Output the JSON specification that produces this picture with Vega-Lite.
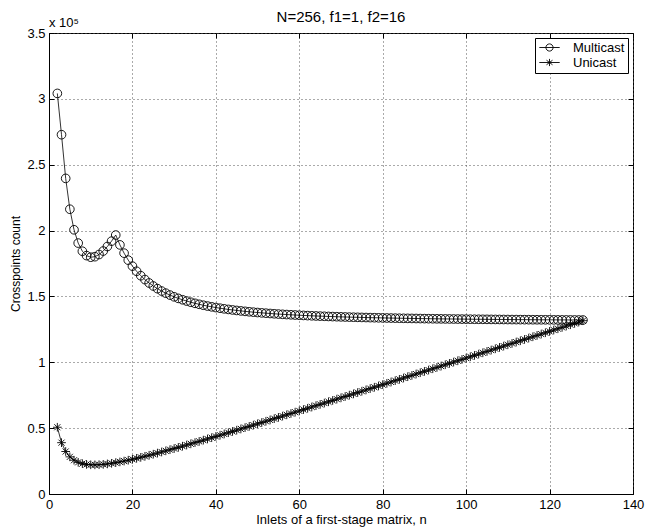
{
  "$schema": "https://vega.github.io/schema/vega-lite/v6.json",
  "autosize": {"type": "none"},
  "width": 584,
  "height": 461,
  "padding": {"left": 49, "top": 33, "right": 20, "bottom": 35},
  "background": "white",
  "title": {"text": "N=256, f1=1, f2=16", "font": "Liberation Sans", "fontSize": 15, "fontWeight": "normal", "color": "black", "offset": -8},
  "config": {
    "font": "Liberation Sans",
    "view": {"stroke": "black", "strokeWidth": 1},
    "axis": {"labelFont": "Liberation Sans", "titleFont": "Liberation Sans", "labelColor": "black", "titleColor": "black", "titleFontWeight": "normal", "domainColor": "black", "tickColor": "black", "gridColor": "#555", "gridDash": [1, 3], "gridWidth": 1}
  },
  "data": {"values": [
    {"n":2,"Multicast":304128,"Unicast":50688},
    {"n":3,"Multicast":272782,"Unicast":38969},
    {"n":4,"Multicast":239616,"Unicast":32256},
    {"n":5,"Multicast":216207,"Unicast":28201},
    {"n":6,"Multicast":200590,"Unicast":25657},
    {"n":7,"Multicast":190495,"Unicast":24043},
    {"n":8,"Multicast":184320,"Unicast":23040},
    {"n":9,"Multicast":180989,"Unicast":22459},
    {"n":10,"Multicast":179773,"Unicast":22180},
    {"n":11,"Multicast":180169,"Unicast":22126},
    {"n":12,"Multicast":181817,"Unicast":22244},
    {"n":13,"Multicast":184457,"Unicast":22495},
    {"n":14,"Multicast":187894,"Unicast":22852},
    {"n":15,"Multicast":191982,"Unicast":23295},
    {"n":16,"Multicast":196608,"Unicast":23808},
    {"n":17,"Multicast":189125,"Unicast":24379},
    {"n":18,"Multicast":182853,"Unicast":24999},
    {"n":19,"Multicast":177546,"Unicast":25661},
    {"n":20,"Multicast":173015,"Unicast":26358},
    {"n":21,"Multicast":169116,"Unicast":27085},
    {"n":22,"Multicast":165734,"Unicast":27838},
    {"n":23,"Multicast":162788,"Unicast":28615},
    {"n":24,"Multicast":160200,"Unicast":29412},
    {"n":25,"Multicast":157916,"Unicast":30226},
    {"n":26,"Multicast":155891,"Unicast":31056},
    {"n":27,"Multicast":154086,"Unicast":31901},
    {"n":28,"Multicast":152471,"Unicast":32757},
    {"n":29,"Multicast":151022,"Unicast":33626},
    {"n":30,"Multicast":149714,"Unicast":34504},
    {"n":31,"Multicast":148531,"Unicast":35392},
    {"n":32,"Multicast":147456,"Unicast":36288},
    {"n":33,"Multicast":146478,"Unicast":37192},
    {"n":34,"Multicast":145585,"Unicast":38102},
    {"n":35,"Multicast":144768,"Unicast":39020},
    {"n":36,"Multicast":144018,"Unicast":39942},
    {"n":37,"Multicast":143327,"Unicast":40871},
    {"n":38,"Multicast":142689,"Unicast":41804},
    {"n":39,"Multicast":142103,"Unicast":42742},
    {"n":40,"Multicast":141558,"Unicast":43684},
    {"n":41,"Multicast":141053,"Unicast":44630},
    {"n":42,"Multicast":140582,"Unicast":45579},
    {"n":43,"Multicast":140145,"Unicast":46532},
    {"n":44,"Multicast":139738,"Unicast":47489},
    {"n":45,"Multicast":139356,"Unicast":48448},
    {"n":46,"Multicast":139000,"Unicast":49410},
    {"n":47,"Multicast":138668,"Unicast":50375},
    {"n":48,"Multicast":138353,"Unicast":51342},
    {"n":49,"Multicast":138061,"Unicast":52312},
    {"n":50,"Multicast":137782,"Unicast":53283},
    {"n":51,"Multicast":137523,"Unicast":54257},
    {"n":52,"Multicast":137277,"Unicast":55233},
    {"n":53,"Multicast":137044,"Unicast":56210},
    {"n":54,"Multicast":136824,"Unicast":57188},
    {"n":55,"Multicast":136617,"Unicast":58169},
    {"n":56,"Multicast":136422,"Unicast":59152},
    {"n":57,"Multicast":136236,"Unicast":60135},
    {"n":58,"Multicast":136059,"Unicast":61120},
    {"n":59,"Multicast":135892,"Unicast":62107},
    {"n":60,"Multicast":135731,"Unicast":63094},
    {"n":61,"Multicast":135580,"Unicast":64083},
    {"n":62,"Multicast":135437,"Unicast":65073},
    {"n":63,"Multicast":135299,"Unicast":66064},
    {"n":64,"Multicast":135168,"Unicast":67056},
    {"n":65,"Multicast":135043,"Unicast":68049},
    {"n":66,"Multicast":134922,"Unicast":69042},
    {"n":67,"Multicast":134810,"Unicast":70038},
    {"n":68,"Multicast":134700,"Unicast":71033},
    {"n":69,"Multicast":134597,"Unicast":72030},
    {"n":70,"Multicast":134495,"Unicast":73026},
    {"n":71,"Multicast":134400,"Unicast":74025},
    {"n":72,"Multicast":134308,"Unicast":75024},
    {"n":73,"Multicast":134221,"Unicast":76024},
    {"n":74,"Multicast":134136,"Unicast":77024},
    {"n":75,"Multicast":134054,"Unicast":78024},
    {"n":76,"Multicast":133978,"Unicast":79026},
    {"n":77,"Multicast":133901,"Unicast":80027},
    {"n":78,"Multicast":133829,"Unicast":81029},
    {"n":79,"Multicast":133760,"Unicast":82033},
    {"n":80,"Multicast":133693,"Unicast":83036},
    {"n":81,"Multicast":133629,"Unicast":84040},
    {"n":82,"Multicast":133568,"Unicast":85045},
    {"n":83,"Multicast":133507,"Unicast":86049},
    {"n":84,"Multicast":133450,"Unicast":87055},
    {"n":85,"Multicast":133394,"Unicast":88061},
    {"n":86,"Multicast":133340,"Unicast":89067},
    {"n":87,"Multicast":133289,"Unicast":90074},
    {"n":88,"Multicast":133238,"Unicast":91081},
    {"n":89,"Multicast":133189,"Unicast":92088},
    {"n":90,"Multicast":133143,"Unicast":93096},
    {"n":91,"Multicast":133097,"Unicast":94104},
    {"n":92,"Multicast":133053,"Unicast":95112},
    {"n":93,"Multicast":133012,"Unicast":96122},
    {"n":94,"Multicast":132972,"Unicast":97132},
    {"n":95,"Multicast":132931,"Unicast":98140},
    {"n":96,"Multicast":132892,"Unicast":99150},
    {"n":97,"Multicast":132856,"Unicast":100161},
    {"n":98,"Multicast":132818,"Unicast":101170},
    {"n":99,"Multicast":132785,"Unicast":102182},
    {"n":100,"Multicast":132749,"Unicast":103191},
    {"n":101,"Multicast":132716,"Unicast":104202},
    {"n":102,"Multicast":132685,"Unicast":105215},
    {"n":103,"Multicast":132654,"Unicast":106227},
    {"n":104,"Multicast":132623,"Unicast":107238},
    {"n":105,"Multicast":132593,"Unicast":108249},
    {"n":106,"Multicast":132564,"Unicast":109262},
    {"n":107,"Multicast":132536,"Unicast":110274},
    {"n":108,"Multicast":132511,"Unicast":111288},
    {"n":109,"Multicast":132485,"Unicast":112302},
    {"n":110,"Multicast":132460,"Unicast":113315},
    {"n":111,"Multicast":132434,"Unicast":114328},
    {"n":112,"Multicast":132408,"Unicast":115340},
    {"n":113,"Multicast":132385,"Unicast":116354},
    {"n":114,"Multicast":132362,"Unicast":117368},
    {"n":115,"Multicast":132342,"Unicast":118384},
    {"n":116,"Multicast":132319,"Unicast":119397},
    {"n":117,"Multicast":132298,"Unicast":120412},
    {"n":118,"Multicast":132278,"Unicast":121427},
    {"n":119,"Multicast":132257,"Unicast":122441},
    {"n":120,"Multicast":132237,"Unicast":123455},
    {"n":121,"Multicast":132219,"Unicast":124472},
    {"n":122,"Multicast":132198,"Unicast":125485},
    {"n":123,"Multicast":132180,"Unicast":126501},
    {"n":124,"Multicast":132163,"Unicast":127516},
    {"n":125,"Multicast":132145,"Unicast":128531},
    {"n":126,"Multicast":132129,"Unicast":129549},
    {"n":127,"Multicast":132111,"Unicast":130563},
    {"n":128,"Multicast":132096,"Unicast":131580}
  ]},
  "layer": [
    {
      "transform": [{"fold": ["Multicast", "Unicast"], "as": ["series", "count"]}],
      "mark": {"type": "line", "color": "black", "strokeWidth": 0.8},
      "encoding": {
        "x": {"field": "n", "type": "quantitative", "scale": {"domain": [0, 140], "nice": false}, "axis": {"values": [0, 20, 40, 60, 80, 100, 120, 140], "title": "Inlets of a first-stage matrix, n", "titleFontSize": 13, "labelFontSize": 13, "tickSize": -5, "labelPadding": 9, "titlePadding": 2, "grid": true, "labelFlush": false}},
        "y": {"field": "count", "type": "quantitative", "scale": {"domain": [0, 350000], "nice": false}, "axis": {"values": [0, 50000, 100000, 150000, 200000, 250000, 300000, 350000], "labelExpr": "datum.value / 100000 + ''", "title": "Crosspoints count", "titleFontSize": 12, "labelFontSize": 13, "tickSize": -5, "labelPadding": 9, "titlePadding": 4, "grid": true, "labelFlush": false}},
        "detail": {"field": "series"}
      }
    },
    {
      "data": {"values": [{"n": 0, "count": 350000, "label": "x 10⁵"}]},
      "mark": {"type": "text", "align": "left", "baseline": "alphabetic", "dy": -6, "fontSize": 13, "font": "Liberation Sans", "color": "black"},
      "encoding": {
        "x": {"field": "n", "type": "quantitative", "axis": {"orient": "top", "labels": false, "grid": false, "domain": false, "title": null, "tickSize": -5, "values": [0, 20, 40, 60, 80, 100, 120, 140]}},
        "y": {"field": "count", "type": "quantitative", "axis": {"orient": "right", "labels": false, "grid": false, "domain": false, "title": null, "tickSize": -5, "values": [0, 50000, 100000, 150000, 200000, 250000, 300000, 350000]}},
        "text": {"field": "label"}
      }
    },
    {
      "transform": [{"fold": ["Multicast", "Unicast"], "as": ["series", "count"]}],
      "mark": {"type": "point", "filled": false, "color": "black", "strokeWidth": 0.9, "opacity": 1, "size": 75},
      "encoding": {
        "x": {"field": "n", "type": "quantitative", "axis": null},
        "y": {"field": "count", "type": "quantitative", "axis": null},
        "shape": {"field": "series", "type": "nominal", "scale": {"domain": ["Multicast", "Unicast"], "range": ["circle", "M-1,0L1,0M0,-1L0,1M-0.7,-0.7L0.7,0.7M-0.7,0.7L0.7,-0.7"]}, "legend": null}
      }
    },
    {
      "transform": [{"fold": ["Multicast", "Unicast"], "as": ["series", "count"]}, {"filter": "datum.n === 128"}],
      "mark": {"type": "point", "filled": false, "color": "black", "strokeWidth": 0.9, "opacity": 0},
      "encoding": {
        "x": {"field": "n", "type": "quantitative", "axis": null},
        "y": {"field": "count", "type": "quantitative", "axis": null},
        "shape": {"field": "series", "type": "nominal", "scale": {"domain": ["Multicast", "Unicast"], "range": ["M-1.7,0L1.7,0M-0.6,0A0.6,0.6,0,1,1,0.6,0A0.6,0.6,0,1,1,-0.6,0", "M-1.7,0L1.7,0M0,-0.6L0,0.6M-0.5,-0.38L0.5,0.38M-0.5,0.38L0.5,-0.38"]},
          "legend": {"title": null, "orient": "top-right", "offset": 5, "strokeColor": "black", "fillColor": "white", "padding": 3, "cornerRadius": 0, "labelFontSize": 13, "labelColor": "black", "labelFont": "Liberation Sans", "symbolSize": 144, "symbolStrokeColor": "black", "symbolFillColor": "transparent", "symbolStrokeWidth": 0.9, "symbolOpacity": 1, "symbolOffset": 5, "rowPadding": 1, "labelOffset": 17}}
      }
    }
  ],
  "resolve": {"axis": {"x": "independent", "y": "independent"}, "scale": {"shape": "independent"}}
}
